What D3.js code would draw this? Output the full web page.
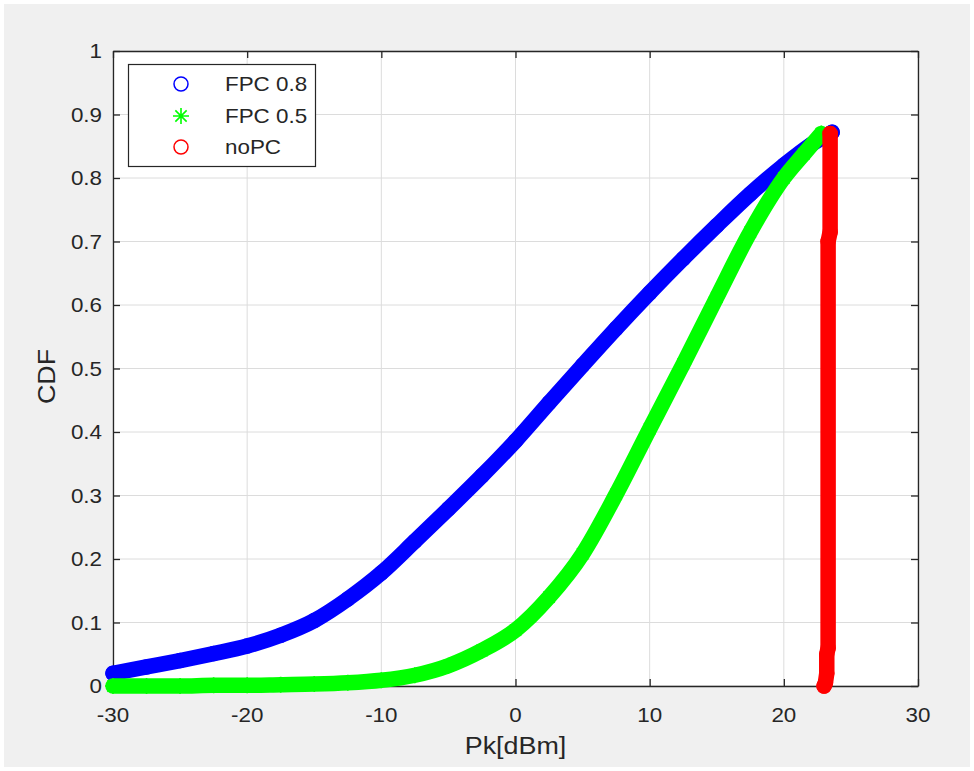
<!DOCTYPE html>
<html><head><meta charset="utf-8">
<script src="https://cdn.jsdelivr.net/npm/d3@7"></script>
<style>
body{margin:0;background:#fff}
text{font-family:"Liberation Sans",Arial,Helvetica,sans-serif;fill:#262626}
</style>
</head><body>
<svg id="c" width="974" height="771"></svg>
<script>
// ---- data ----
const xTicks = [-30, -20, -10, 0, 10, 20, 30];
const xTickLabels = ["-30", "-20", "-10", "0", "10", "20", "30"];
const yTicks = [0, 0.1, 0.2, 0.3, 0.4, 0.5, 0.6, 0.7, 0.8, 0.9, 1];
const yTickLabels = ["0", "0.1", "0.2", "0.3", "0.4", "0.5", "0.6", "0.7", "0.8", "0.9", "1"];
const seriesNames = ["FPC 0.8", "FPC 0.5", "noPC"];
const seriesColors = ["#0000ff", "#00ff00", "#ff0000"];
const seriesMarkers = ["circle", "asterisk", "circle"];

const fpc08X = [-30, -27.5, -25, -22.5, -20, -17.5, -15, -12.5, -10, -7.5, -5, -2.5, 0, 2.5, 5, 7.5, 10, 12.5, 15, 17.5, 20, 22, 23.6];
const fpc08Y = [0.020, 0.030, 0.040, 0.051, 0.063, 0.080, 0.103, 0.137, 0.178, 0.228, 0.279, 0.331, 0.386, 0.446, 0.505, 0.563, 0.619, 0.673, 0.725, 0.775, 0.820, 0.852, 0.872];

const fpc05X = [-30, -27.5, -25, -22.5, -20, -17.5, -15, -12.5, -10, -7.5, -5, -2.5, 0, 2.5, 5, 7.5, 10, 12.5, 15, 17.5, 20, 21.5, 22.8];
const fpc05Y = [0.000, 0.000, 0.000, 0.001, 0.001, 0.002, 0.003, 0.005, 0.009, 0.017, 0.032, 0.056, 0.088, 0.140, 0.208, 0.302, 0.405, 0.507, 0.612, 0.715, 0.800, 0.838, 0.870];

const noPCX = [23.0, 23.1, 23.2, 23.2, 23.3, 23.3, 23.45, 23.45];
const noPCY = [0.000, 0.005, 0.020, 0.050, 0.060, 0.700, 0.715, 0.870];

const seriesX = [fpc08X, fpc05X, noPCX];
const seriesY = [fpc08Y, fpc05Y, noPCY];

// ---- layout ----
const plot = {left: 113, right: 918, top: 51, bottom: 686};
const SX = 1.12;           // horizontal stretch of the reference's text rendering
const tickFont = 20, titleFont = 24;
const svg = d3.select("#c");

svg.append("rect").attr("x", 4).attr("y", 4).attr("width", 966).attr("height", 763).attr("fill", "#f0f0f0");
svg.append("rect").attr("x", plot.left).attr("y", plot.top)
  .attr("width", plot.right - plot.left).attr("height", plot.bottom - plot.top).attr("fill", "#ffffff");

const x = d3.scaleLinear().domain([-30, 30]).range([plot.left, plot.right]);
const y = d3.scaleLinear().domain([0, 1]).range([plot.bottom, plot.top]);

function label(g, px, py, str, size, anchor, rot) {
  return g.append("text")
    .attr("transform", `translate(${px},${py})` + (rot ? ` rotate(${rot})` : "") + ` scale(${SX},1)`)
    .attr("text-anchor", anchor).attr("dy", "0.36em")
    .style("font-size", size + "px").text(str);
}

// grid
const grid = svg.append("g").attr("stroke", "#dcdcdc").attr("stroke-width", 1);
xTicks.forEach(t => grid.append("line").attr("x1", x(t)).attr("x2", x(t)).attr("y1", plot.top).attr("y2", plot.bottom));
yTicks.forEach(t => grid.append("line").attr("y1", y(t)).attr("y2", y(t)).attr("x1", plot.left).attr("x2", plot.right));

// axes with inward ticks
const tickLen = 7;
const axB = svg.append("g").attr("transform", `translate(0,${plot.bottom})`)
  .call(d3.axisBottom(x).tickValues(xTicks).tickSizeInner(-tickLen).tickSizeOuter(0).tickFormat(""));
const axT = svg.append("g").attr("transform", `translate(0,${plot.top})`)
  .call(d3.axisTop(x).tickValues(xTicks).tickSizeInner(-tickLen).tickSizeOuter(0).tickFormat(""));
const axL = svg.append("g").attr("transform", `translate(${plot.left},0)`)
  .call(d3.axisLeft(y).tickValues(yTicks).tickSizeInner(-tickLen).tickSizeOuter(0).tickFormat(""));
const axR = svg.append("g").attr("transform", `translate(${plot.right},0)`)
  .call(d3.axisRight(y).tickValues(yTicks).tickSizeInner(-tickLen).tickSizeOuter(0).tickFormat(""));
[axB, axT, axL, axR].forEach(a => {
  a.selectAll("path.domain").attr("stroke", "#262626").attr("stroke-width", 1.3);
  a.selectAll(".tick line").attr("stroke", "#262626").attr("stroke-width", 1.3);
});

// tick labels
const tl = svg.append("g");
xTicks.forEach((t, i) => label(tl, x(t), plot.bottom + 29, xTickLabels[i], tickFont, "middle"));
yTicks.forEach((t, i) => label(tl, plot.left - 11, y(t), yTickLabels[i], tickFont, "end"));

// axis titles
label(svg, x(0), 745, "Pk[dBm]", titleFont, "middle");
label(svg, 46, y(0.5) + 8, "CDF", titleFont, "middle", -90);

// marker shapes
const R = 7;
function asteriskPath(r) {
  const d = r * Math.SQRT1_2;
  return `M${-r},0L${r},0M0,${-r}L0,${r}M${-d},${-d}L${d},${d}M${-d},${d}L${d},${-d}`;
}
function drawMarker(g, type, cx, cy, color) {
  if (type === "circle") {
    g.append("circle").attr("cx", cx).attr("cy", cy).attr("r", R)
      .attr("fill", "none").attr("stroke", color).attr("stroke-width", 1.5);
  } else {
    g.append("path").attr("transform", `translate(${cx},${cy})`).attr("d", asteriskPath(R + 1))
      .attr("fill", "none").attr("stroke", color).attr("stroke-width", 1.6);
  }
}

// series: dense marker band drawn as thick path + markers at points
const line = d3.line().x(d => x(d[0])).y(d => y(d[1])).curve(d3.curveMonotoneX);
const lineLinear = d3.line().x(d => x(d[0])).y(d => y(d[1]));
seriesNames.forEach((name, si) => {
  const pts = seriesX[si].map((v, i) => [v, seriesY[si][i]]);
  const g = svg.append("g");
  g.append("path").attr("d", si === 2 ? lineLinear(pts) : line(pts))
    .attr("fill", "none").attr("stroke", seriesColors[si])
    .attr("stroke-width", 15.5).attr("stroke-linecap", "round").attr("stroke-linejoin", "round");
  pts.forEach(p => drawMarker(g, seriesMarkers[si], x(p[0]), y(p[1]), seriesColors[si]));
});

// legend
const lg = svg.append("g");
lg.append("rect").attr("x", 128.5).attr("y", 64.5).attr("width", 187).attr("height", 102)
  .attr("fill", "#ffffff").attr("stroke", "#262626").attr("stroke-width", 1.2);
const legendRowY = [84, 116, 147];
seriesNames.forEach((name, i) => {
  drawMarker(lg, seriesMarkers[i], 181, legendRowY[i], seriesColors[i]);
  label(lg, 225, legendRowY[i], name, tickFont, "start");
});
</script>
</body></html>
